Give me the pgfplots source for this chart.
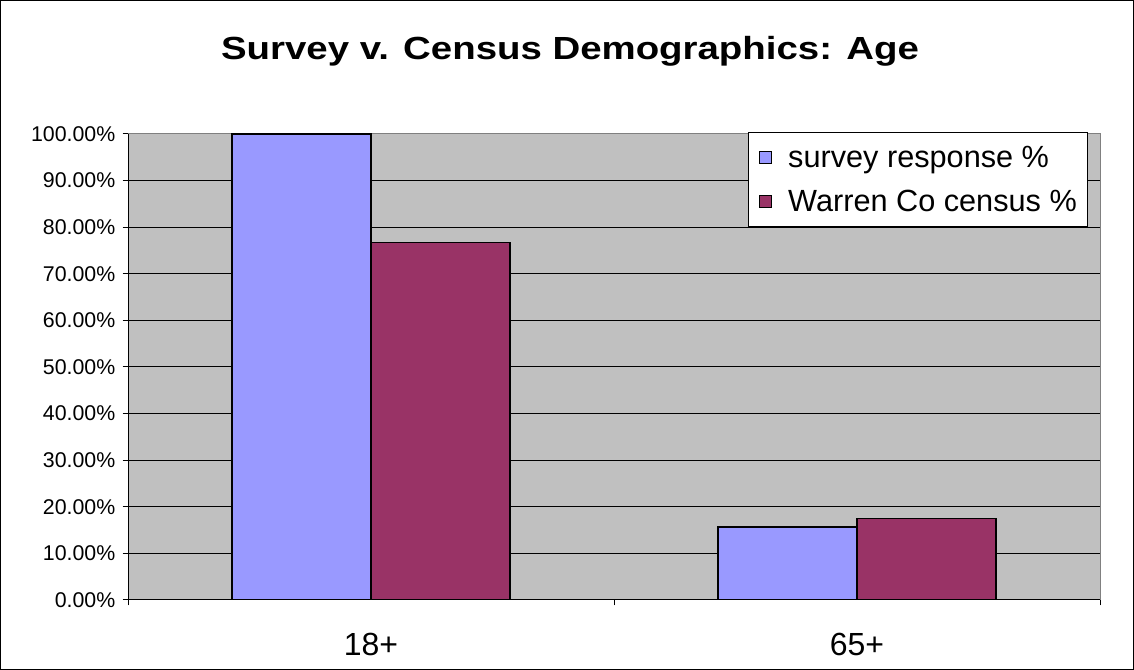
\documentclass[border=0pt]{standalone}
\usepackage{pgfplots}
\pgfplotsset{compat=1.18}
\usepackage{fontspec}
\setmainfont{Liberation Sans}
\definecolor{survey}{HTML}{9999FF}
\definecolor{census}{HTML}{993366}
\definecolor{plotbg}{HTML}{C0C0C0}
\begin{document}
\begin{tikzpicture}[x=0.75pt,y=0.75pt]
\draw[black, line width=0.75pt] (0.5,0.5) rectangle (1133.5,669.5);
\node[font=\bfseries\fontsize{24}{28}\selectfont] at (570,619) {\scalebox{1.2}[1]{Survey v. Census Demographics: Age}};
\begin{axis}[
  at={(96pt,52.5pt)}, anchor=south west,
  width=729pt, height=349.5pt, scale only axis,
  xmin=-0.5, xmax=1.5, ymin=0, ymax=100,
  ybar=0pt, bar width=0.286,
  axis background/.style={fill=plotbg},
  axis line style={draw=gray, line width=0.75pt},
  ytick={0,10,...,100},
  yticklabel={\pgfmathprintnumber[fixed,fixed zerofill,precision=2]{\tick}\%},
  /pgf/number format/assume math mode=true,
  yticklabel style={font=\fontsize{16}{19}\selectfont, xshift=-2pt},
  ymajorgrids, grid style={black, line width=0.75pt},
  tick align=outside,
  major tick length=4pt,
  tick style={black, line width=0.75pt},
  xtick pos=bottom, ytick pos=left,
  xtick={-0.5,0.5,1.5}, xticklabels={},
  extra x ticks={0,1}, extra x tick labels={18+,65+},
  extra x tick style={grid=none, major tick length=0pt,
     xticklabel style={font=\fontsize{24}{28}\selectfont, anchor=center, yshift=-33pt}},
  legend style={at={(0.638,1.004)}, anchor=north west, draw=black, fill=white,
     font=\fontsize{23}{27}\selectfont, inner xsep=8pt, inner ysep=6pt,
     row sep=6.5pt, legend cell align=left,
     nodes={inner xsep=0pt, text height=18.5pt, text depth=3.5pt}},
  legend image code/.code={\draw[#1, draw=black, line width=0.75pt] (0pt,-4.5pt) rectangle (9pt,4.5pt); \path (21pt,0pt);},
]
\addplot[fill=survey, draw=black, line width=1pt] coordinates {(0,100) (1,15.7)};
\addplot[fill=census, draw=black, line width=1pt] coordinates {(0,76.7) (1,17.5)};
\legend{survey response \%, Warren Co census \%}
\draw[black, line width=0.75pt] (rel axis cs:0,1) -- (rel axis cs:0,0) -- (rel axis cs:1,0);
\end{axis}
\end{tikzpicture}
\end{document}
